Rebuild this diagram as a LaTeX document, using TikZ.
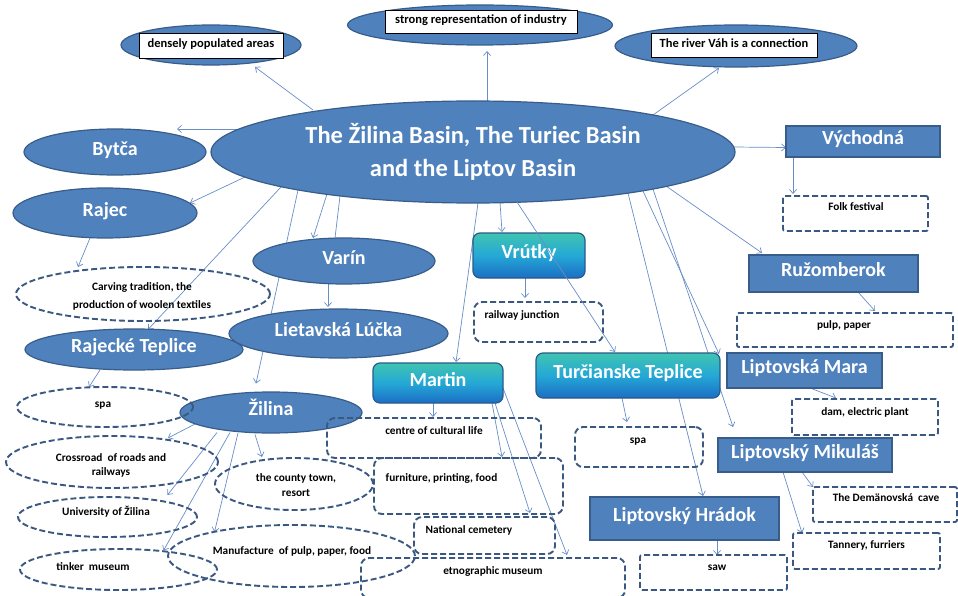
\documentclass[tikz,border=0pt]{standalone}
\usepackage{fontspec}
\setmainfont{Carlito}
\usetikzlibrary{shapes.geometric,arrows.meta,calc,backgrounds}
\definecolor{fillblue}{RGB}{79,129,189}
\definecolor{edgeblue}{RGB}{56,93,138}
\definecolor{arrowc}{RGB}{104,142,200}
\definecolor{dashc}{RGB}{58,88,128}
\definecolor{tealtop}{RGB}{64,196,176}
\definecolor{tealmid}{RGB}{36,168,214}
\definecolor{tealbot}{RGB}{28,110,196}
\definecolor{tealedge}{RGB}{40,90,140}
\tikzset{
  arr/.style={draw=arrowc, line width=0.7pt, -{Straight Barb[length=4pt,width=7pt]}},
  plainline/.style={draw=arrowc, line width=0.7pt},
  bigtxt/.style={text=white, font=\fontsize{20}{24}\selectfont\bfseries, text height=0.8em, text depth=0.16em},
  ellbase/.style={ellipse, fill=fillblue, draw=edgeblue, line width=1.2pt, inner sep=0pt, text=white},
  blueell/.style={ellbase, bigtxt},
  bluebox/.style={rectangle, fill=fillblue, draw=edgeblue, line width=1.5pt, inner sep=0pt, bigtxt},
  tealbox/.style={rectangle, rounded corners=7pt, draw=tealedge, line width=1.2pt, top color=tealtop, bottom color=tealbot, middle color=tealmid, inner sep=0pt, bigtxt},
  dell/.style={ellipse, draw=dashc, line width=1.9pt, dash pattern=on 6pt off 3pt, inner sep=0pt},
  dbox/.style={rectangle, rounded corners=8pt, draw=dashc, line width=1.9pt, dash pattern=on 6pt off 3pt, inner sep=0pt},
  dboxs/.style={rectangle, rounded corners=2pt, draw=dashc, line width=1.9pt, dash pattern=on 6pt off 3pt, inner sep=0pt},
  stxt/.style={font=\fontsize{11.3}{14}\selectfont\bfseries, text=black, inner sep=0pt, text height=0.7em, text depth=0.2em},
  stxtm/.style={text=black, inner sep=0pt, align=center},
  toptxt/.style={rectangle, fill=white, draw=black, line width=0.6pt, inner sep=0pt, font=\fontsize{12.5}{15}\selectfont\bfseries, text height=0.7em, text depth=0.2em},
}
\begin{document}
\begin{tikzpicture}[x=1pt,y=-1pt]
\useasboundingbox (0,0) rectangle (958,596);

% top ellipses
\node[ellbase, minimum width=180pt, minimum height=40pt] (dpa) at (211,45) {};
\node[toptxt, minimum width=144pt, minimum height=25pt] (dpat) at (211,45.5) {densely populated areas};
\node[ellbase, minimum width=265pt, minimum height=40pt] (sri) at (480,25) {};
\node[toptxt, minimum width=192pt, minimum height=23pt] (srit) at (481,21.5) {strong representation of industry};
\node[ellbase, minimum width=242pt, minimum height=42pt] (rvc) at (736,46) {};
\node[toptxt, minimum width=166pt, minimum height=24pt] (rvct) at (734,45) {The river Váh is a connection};

% main
\node[ellbase, minimum width=524pt, minimum height=102pt, align=center, font=\fontsize{24.5}{33}\selectfont\bfseries] (main) at (473,152) {The Žilina Basin, The Turiec Basin\\and the Liptov Basin};

% left ellipses
\node[blueell, minimum width=182pt, minimum height=46pt] (bytca) at (115,152) {Bytča};
\node[blueell, minimum width=184pt, minimum height=50pt] (rajec) at (105,213) {Rajec};
\node[blueell, minimum width=182pt, minimum height=46pt] (varin) at (344,261) {Varín};
\node[blueell, minimum width=218pt, minimum height=41pt] (rajt) at (134,349.5) {Rajecké Teplice};
\node[blueell, minimum width=219pt, minimum height=49pt] (lietl) at (338.5,333.5) {Lietavská Lúčka};
\node[blueell, minimum width=182pt, minimum height=41pt] (zilina) at (271,412.5) {Žilina};

% teal boxes
\node[tealbox, minimum width=112pt, minimum height=45pt] (vrutky) at (529,255.5) {Vrútky};
\node[tealbox, minimum width=184pt, minimum height=45pt] (turct) at (628,375.5) {Turčianske Teplice};
\node[tealbox, minimum width=130pt, minimum height=40pt] (martin) at (438,383) {Martin};

% blue boxes
\node[bluebox, minimum width=154pt, minimum height=31pt] (vych) at (863,141.5) {Východná};
\node[bluebox, minimum width=169pt, minimum height=37pt] (ruz) at (833.5,273.5) {Ružomberok};
\node[bluebox, minimum width=155pt, minimum height=35pt] (lmara) at (804.5,370.5) {Liptovská Mara};
\node[bluebox, minimum width=174pt, minimum height=34pt] (lmik) at (805,455) {Liptovský Mikuláš};
\node[bluebox, minimum width=189pt, minimum height=43pt] (lhr) at (684.5,518.5) {Liptovský Hrádok};

% dashed ellipses
\node[dell, minimum width=254pt, minimum height=54pt] (carv) at (143,294) {};
\node[dell, minimum width=176pt, minimum height=40pt] (spal) at (105,407) {};
\node[dell, minimum width=212pt, minimum height=52pt] (cross) at (112,462) {};
\node[dell, minimum width=158pt, minimum height=52pt] (county) at (294,484) {};
\node[dell, minimum width=179pt, minimum height=40pt] (univ) at (107.5,517) {};
\node[dell, minimum width=247pt, minimum height=62pt] (manu) at (291.5,556) {};
\node[dell, minimum width=197pt, minimum height=41pt] (tinker) at (118.5,569.5) {};

% dashed boxes (middle)
\node[dbox, minimum width=129pt, minimum height=40pt] (rj) at (538.5,322) {};
\node[dbox, minimum width=214pt, minimum height=40pt] (cult) at (434,438) {};
\node[dbox, minimum width=189pt, minimum height=56pt] (furn) at (468.5,486) {};
\node[dbox, minimum width=141pt, minimum height=37pt] (natc) at (484.5,535.5) {};
\node[dbox, minimum width=264pt, minimum height=40pt] (etno) at (493,578) {};
\node[dbox, minimum width=128pt, minimum height=40pt] (spat) at (639,447) {};

% dashed boxes (right)
\node[dboxs, minimum width=145pt, minimum height=35pt] (folk) at (855.5,213.5) {};
\node[dboxs, minimum width=216pt, minimum height=34pt] (pulp) at (845,330) {};
\node[dboxs, minimum width=146pt, minimum height=36pt] (dam) at (865,417) {};
\node[dboxs, minimum width=144pt, minimum height=35pt] (dem) at (885,504.5) {};
\node[dboxs, minimum width=147pt, minimum height=36pt] (tan) at (866.5,551) {};
\node[dboxs, minimum width=147pt, minimum height=35pt] (saw) at (713.5,572.5) {};

% texts
\node[stxtm, font=\fontsize{11.3}{18}\selectfont\bfseries] (carvt) at (142,296) {Carving tradition, the\\production of woolen textiles};
\node[stxt] (spalt) at (103,405) {spa};
\node[stxtm, font=\fontsize{11.3}{14}\selectfont\bfseries] (crosst) at (111,465) {Crossroad\ \ of roads and\\railways};
\node[stxtm, font=\fontsize{11.3}{15}\selectfont\bfseries] (countyt) at (296,485.5) {the county town,\\resort};
\node[stxt] (univt) at (106,513) {University of Žilina};
\node[stxt] (manut) at (292,552) {Manufacture\ \ of pulp, paper, food};
\node[stxt] (tinkert) at (93,568) {tinker\ \ museum};
\node[stxt] (rjt) at (522,316) {railway junction};
\node[stxt] (cultt) at (434,432) {centre of cultural life};
\node[stxt] (furnt) at (441.5,479) {furniture, printing, food};
\node[stxt] (natct) at (469,531) {National cemetery};
\node[stxt] (etnot) at (493,572) {etnographic museum};
\node[stxt] (spatt) at (638,441) {spa};
\node[stxt] (folkt) at (856,208) {Folk festival};
\node[stxt] (pulpt) at (844,326) {pulp, paper};
\node[stxt] (damt) at (865,413) {dam, electric plant};
\node[stxt] (demt) at (886,499) {The Demänovská\ \ cave};
\node[stxt] (tant) at (866.5,546) {Tannery, furriers};
\node[stxt] (sawt) at (717,568) {saw};

% connectors behind the shapes
\begin{scope}[on background layer]
\fill[white] (0,0) rectangle (958,596);
\draw[arr] ($(main)+(-160,-42)$) -- ($(dpa)+(44,22)$);
\draw[arr] ($(main)+(14,-51)$) -- ($(sri)+(7,26)$);
\draw[arr] ($(main)+(180,-37)$) -- ($(rvc)+(-17,22)$);
\draw[arr] ($(main)+(-232,-23)$) -- ($(bytca)+(62,-23)$);
\draw[arr] ($(main)+(260,-5)$) -- ($(vych)+(-77,6)$);
\draw[arr] ($(main)+(-228,25)$) -- ($(rajec)+(85,-10)$);
\draw[arr] ($(main)+(-192,35)$) -- ($(rajt)+(14,-20)$);
\draw[arr] ($(main)+(-175,38)$) -- ($(zilina)+(-15,-29)$);
\draw[arr] ($(main)+(-146,42)$) -- ($(varin)+(-31,-23)$);
\draw[plainline] ($(main)+(-133,44)$) -- ($(varin)+(-9,-23)$);
\draw[arr] ($(main)+(5,51)$) -- ($(martin)+(18,-21)$);
\draw[arr] ($(main)+(27,50)$) -- ($(vrutky)+(-27,-23.5)$);
\draw[arr] ($(main)+(155,41)$) -- ($(lhr)+(18.5,-22.5)$);
\draw[arr] ($(main)+(170,39)$) -- ($(lmara)+(-85.5,-16.5)$);
\draw[arr] ($(main)+(180,37)$) -- ($(lmik)+(-72,-28)$);
\draw[arr] ($(main)+(193,34)$) -- ($(ruz)+(-71.5,-20.5)$);
\draw[arr] ($(vych)+(-70,15.5)$) -- ($(folk)+(-62.5,-19.5)$);
\draw[arr] ($(rajec)+(-15,25)$) -- ($(carv)+(-65,-27)$);
\draw[arr] ($(rajt)+(-34,20.5)$) -- ($(spal)+(-16,-20)$);
\draw[arr] ($(varin)+(-16,22)$) -- ($(lietl)+(-10.5,-26.5)$);
\draw[arr] ($(zilina)+(-74,10.5)$) -- ($(cross)+(56,-24)$);
\draw[arr] ($(zilina)+(-54,20)$) -- ($(univ)+(60,-22)$);
\draw[arr] ($(zilina)+(-41,20)$) -- ($(tinker)+(45,-19)$);
\draw[arr] ($(zilina)+(-33,20.5)$) -- ($(manu)+(-77,-24)$);
\draw[arr] ($(zilina)+(-16,22)$) -- ($(county)+(-32,-27)$);
\draw[arr] ($(vrutky)+(-4,22.5)$) -- ($(rj)+(-13.5,-24)$);
\draw[arr] ($(turct)+(-6,22.5)$) -- ($(spat)+(-12,-25)$);
\draw[arr] ($(martin)+(-5,20)$) -- ($(cult)+(-1,-21)$);
\draw[arr] ($(martin)+(54,20)$) -- ($(furn)+(33.5,-29)$);
\draw[arr] ($(martin)+(57,20)$) -- ($(natc)+(45.5,-22.5)$);
\draw[arr] ($(martin)+(65,5)$) -- ($(etno)+(74,-23)$);
\draw[arr] ($(ruz)+(24.5,18.5)$) -- ($(pulp)+(30,-19)$);
\draw[arr] ($(lmara)+(5.5,17.5)$) -- ($(dam)+(-29,-19)$);
\draw[arr] ($(lmik)+(-3,17)$) -- ($(dem)+(-72,-17.5)$);
\draw[arr] ($(lmik)+(-22,17)$) -- ($(tan)+(-64.5,-18)$);
\draw[arr] ($(lhr)+(32.5,21.5)$) -- ($(saw)+(3.5,-17.5)$);
\end{scope}
% connector drawn over Vrútky
\draw[arr] ($(main)+(44,50)$) -- ($(turct)+(-13,-23.5)$);
\end{tikzpicture}
\end{document}
